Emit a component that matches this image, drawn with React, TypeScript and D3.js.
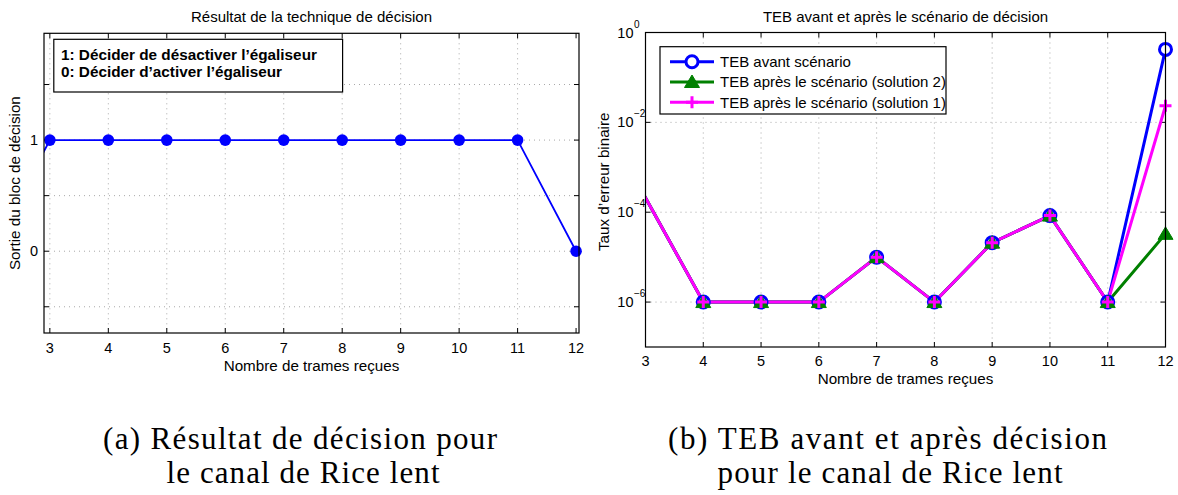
import React from 'react';
import * as d3 from 'd3';

// ---------- data ----------
const decisionFrames = [2, 3, 4, 5, 6, 7, 8, 9, 10, 11, 12];
const decisionValues = [0, 1, 1, 1, 1, 1, 1, 1, 1, 1, 0];
const xTickValues = [3, 4, 5, 6, 7, 8, 9, 10, 11, 12];
const decisionYTicks = [-0.5, 0, 0.5, 1, 1.5];
const decisionYTickLabels = ['', '0', '', '1', ''];

const berFrames = [2, 4, 5, 6, 7, 8, 9, 10, 11, 12];
const berAvant = [0.044, 1e-6, 1e-6, 1e-6, 1e-5, 1e-6, 2.1e-5, 8.4e-5, 1e-6, 0.42];
const berSolution2 = [0.044, 1e-6, 1e-6, 1e-6, 1e-5, 1e-6, 2.1e-5, 8.4e-5, 1e-6, 3.3e-5];
const berSolution1 = [0.044, 1e-6, 1e-6, 1e-6, 1e-5, 1e-6, 2.1e-5, 8.4e-5, 1e-6, 0.0234];
const berYTicks = [1, 1e-2, 1e-4, 1e-6];
const berYTickExponents = ['0', '\u22122', '\u22124', '\u22126'];

const legendDecision = ['1: Décider de désactiver l\u2019égaliseur', '0: Décider d\u2019activer l\u2019égaliseur'];
const legendBer = ['TEB avant scénario', 'TEB après le scénario (solution 2)', 'TEB après le scénario (solution 1)'];

const SANS = '"Liberation Sans", Arial, Helvetica, sans-serif';
const SERIF = '"Liberation Serif", "Times New Roman", serif';
const GRID = '#a8a8a8';

export default function App() {
  // left chart scales
  const xL = d3.scaleLinear().domain([2.9, 12.05]).range([44, 579]);
  const yL = d3.scaleLinear().domain([-0.736, 1.961]).range([333, 33.3]);
  // right chart scales
  const xR = d3.scaleLinear().domain([3, 12]).range([645.5, 1165.5]);
  const yR = d3.scaleLog().domain([1e-7, 1]).range([347, 32.5]);

  const [lx0, lx1] = xL.range();
  const [ly1, ly0] = yL.range();
  const [rx0, rx1] = xR.range();
  const [ry1, ry0] = yR.range();

  const lineL = d3.line<number>().x((_, i) => xL(decisionFrames[i])).y((d) => yL(d));
  const lineR = d3.line<number>().x((_, i) => xR(berFrames[i])).y((d) => yR(d));

  const inL = (x: number) => x >= xL.domain()[0] && x <= xL.domain()[1];
  const inR = (x: number) => x >= xR.domain()[0] && x <= xR.domain()[1];

  const circle = (cx: number, cy: number, key: string) => (
    <circle key={key} cx={cx} cy={cy} r={6} fill="#fff" stroke="#0000ff" strokeWidth={3} />
  );
  const tri = (cx: number, cy: number, key: string) => (
    <path key={key} d={`M${cx},${cy - 7}L${cx + 7.5},${cy + 5.5}L${cx - 7.5},${cy + 5.5}Z`} fill="#008000" stroke="#008000" strokeWidth={1} />
  );
  const plus = (cx: number, cy: number, key: string) => (
    <path key={key} d={`M${cx - 6},${cy}H${cx + 6}M${cx},${cy - 6}V${cy + 6}`} stroke="#ff00ff" strokeWidth={3} fill="none" />
  );

  const series = [
    { values: berAvant, color: '#0000ff', marker: circle },
    { values: berSolution2, color: '#008000', marker: tri },
    { values: berSolution1, color: '#ff00ff', marker: plus },
  ];

  return (
    <svg
      width={1178}
      height={495}
      style={{ position: 'absolute', left: 0, top: 0, background: '#fff' }}
      fontFamily={SANS}
    >
      <defs>
        <clipPath id="clipL">
          <rect x={lx0} y={ly0} width={lx1 - lx0} height={ly1 - ly0} />
        </clipPath>
        <clipPath id="clipR">
          <rect x={rx0} y={ry0} width={rx1 - rx0} height={ry1 - ry0} />
        </clipPath>
      </defs>
      <rect x={0} y={0} width={1178} height={495} fill="#fff" />

      {/* ================= LEFT CHART ================= */}
      <text x={(lx0 + lx1) / 2} y={22} textAnchor="middle" fontSize={15}>
        Résultat de la technique de décision
      </text>
      {/* grid */}
      {xTickValues.filter((v) => v < 12).map((v) => (
        <line key={'lgx' + v} x1={xL(v)} x2={xL(v)} y1={ly0} y2={ly1} stroke={GRID} strokeDasharray="1 4" />
      ))}
      {decisionYTicks.map((v) => (
        <line key={'lgy' + v} x1={lx0} x2={lx1} y1={yL(v)} y2={yL(v)} stroke={GRID} strokeDasharray="1 4" />
      ))}
      {/* ticks */}
      {xTickValues.map((v) => (
        <g key={'ltx' + v}>
          <line x1={xL(v)} x2={xL(v)} y1={ly1} y2={ly1 - 5} stroke="#000" />
          <line x1={xL(v)} x2={xL(v)} y1={ly0} y2={ly0 + 5} stroke="#000" />
          <text x={xL(v)} y={352.5} textAnchor="middle" fontSize={14.5}>{v}</text>
        </g>
      ))}
      {decisionYTicks.map((v, i) => (
        <g key={'lty' + v}>
          <line x1={lx0} x2={lx0 + 5} y1={yL(v)} y2={yL(v)} stroke="#000" />
          <line x1={lx1} x2={lx1 - 5} y1={yL(v)} y2={yL(v)} stroke="#000" />
          <text x={38} y={yL(v) + 5} textAnchor="end" fontSize={14.5}>{decisionYTickLabels[i]}</text>
        </g>
      ))}
      {/* data */}
      <path d={lineL(decisionValues) || ''} fill="none" stroke="#0000ff" strokeWidth={1.8} clipPath="url(#clipL)" />
      {decisionValues.map((v, i) =>
        inL(decisionFrames[i]) ? (
          <circle key={'lp' + i} cx={xL(decisionFrames[i])} cy={yL(v)} r={5.8} fill="#0000ff" />
        ) : null
      )}
      {/* box */}
      <rect x={lx0} y={ly0} width={lx1 - lx0} height={ly1 - ly0} fill="none" stroke="#000" strokeWidth={1.2} />
      {/* legend text box */}
      <rect x={53.8} y={39.3} width={288.8} height={52.7} fill="#fff" stroke="#000" strokeWidth={1.2} />
      {legendDecision.map((t, i) => (
        <text key={'ld' + i} x={61} y={59.8 + i * 17.4} fontSize={15.3} fontWeight="bold">{t}</text>
      ))}
      <text x={(lx0 + lx1) / 2} y={370.5} textAnchor="middle" fontSize={15.2}>Nombre de trames reçues</text>
      <text transform={`translate(19.5,${(ly0 + ly1) / 2}) rotate(-90)`} textAnchor="middle" fontSize={15.2}>
        Sortie du bloc de décision
      </text>

      {/* ================= RIGHT CHART ================= */}
      <text x={(rx0 + rx1) / 2} y={22} textAnchor="middle" fontSize={15}>
        TEB avant et après le scénario de décision
      </text>
      {xTickValues.filter((v) => v > 3 && v < 12).map((v) => (
        <line key={'rgx' + v} x1={xR(v)} x2={xR(v)} y1={ry0} y2={ry1} stroke={GRID} strokeDasharray="1 4" />
      ))}
      {berYTicks.filter((v) => v < 1).map((v) => (
        <line key={'rgy' + v} x1={rx0} x2={rx1} y1={yR(v)} y2={yR(v)} stroke={GRID} strokeDasharray="1 4" />
      ))}
      {xTickValues.map((v) => (
        <g key={'rtx' + v}>
          <line x1={xR(v)} x2={xR(v)} y1={ry1} y2={ry1 - 5} stroke="#000" />
          <line x1={xR(v)} x2={xR(v)} y1={ry0} y2={ry0 + 5} stroke="#000" />
          <text x={xR(v)} y={365.5} textAnchor="middle" fontSize={14.5}>{v}</text>
        </g>
      ))}
      {berYTicks.map((v, i) => (
        <g key={'rty' + v}>
          <line x1={rx0} x2={rx0 + 5} y1={yR(v)} y2={yR(v)} stroke="#000" />
          <line x1={rx1} x2={rx1 - 5} y1={yR(v)} y2={yR(v)} stroke="#000" />
          <text x={633.5} y={yR(v) + 5} textAnchor="end" fontSize={14.5}>10</text>
          <text x={634} y={yR(v) - 5} textAnchor="start" fontSize={10}>{berYTickExponents[i]}</text>
        </g>
      ))}
      {series.map((s, si) => (
        <path key={'rl' + si} d={lineR(s.values) || ''} fill="none" stroke={s.color} strokeWidth={3} clipPath="url(#clipR)" />
      ))}
      {series.map((s, si) =>
        s.values.map((v, i) => (inR(berFrames[i]) ? s.marker(xR(berFrames[i]), yR(v), `m${si}-${i}`) : null))
      )}
      <rect x={rx0} y={ry0} width={rx1 - rx0} height={ry1 - ry0} fill="none" stroke="#000" strokeWidth={1.2} />
      {/* legend */}
      <rect x={660} y={46.7} width={286} height={67.3} fill="#fff" stroke="#000" strokeWidth={1.2} />
      {series.map((s, i) => {
        const cy = 61.7 + i * 20.3;
        return (
          <g key={'lg' + i}>
            <line x1={670} x2={714} y1={cy} y2={cy} stroke={s.color} strokeWidth={3} />
            {s.marker(692, cy, 'lgm' + i)}
            <text x={720} y={cy + 5.3} fontSize={15}>{legendBer[i]}</text>
          </g>
        );
      })}
      <text x={(rx0 + rx1) / 2} y={383.5} textAnchor="middle" fontSize={15.2}>Nombre de trames reçues</text>
      <text transform={`translate(608.5,${(ry0 + ry1) / 2 - 8}) rotate(-90)`} textAnchor="middle" fontSize={15.2}>
        Taux d’erreur binaire
      </text>

      {/* ================= CAPTIONS ================= */}
      <g fontFamily={SERIF} fontSize={31}>
        <text x={300} y={449} textAnchor="middle" textLength={394} lengthAdjust="spacing">(a) Résultat de décision pour</text>
        <text x={303} y={483} textAnchor="middle" textLength={273} lengthAdjust="spacing">le canal de Rice lent</text>
        <text x={887.5} y={449} textAnchor="middle" textLength={439} lengthAdjust="spacing">(b) TEB avant et après décision</text>
        <text x={890} y={483} textAnchor="middle" textLength={345} lengthAdjust="spacing">pour le canal de Rice lent</text>
      </g>
    </svg>
  );
}
